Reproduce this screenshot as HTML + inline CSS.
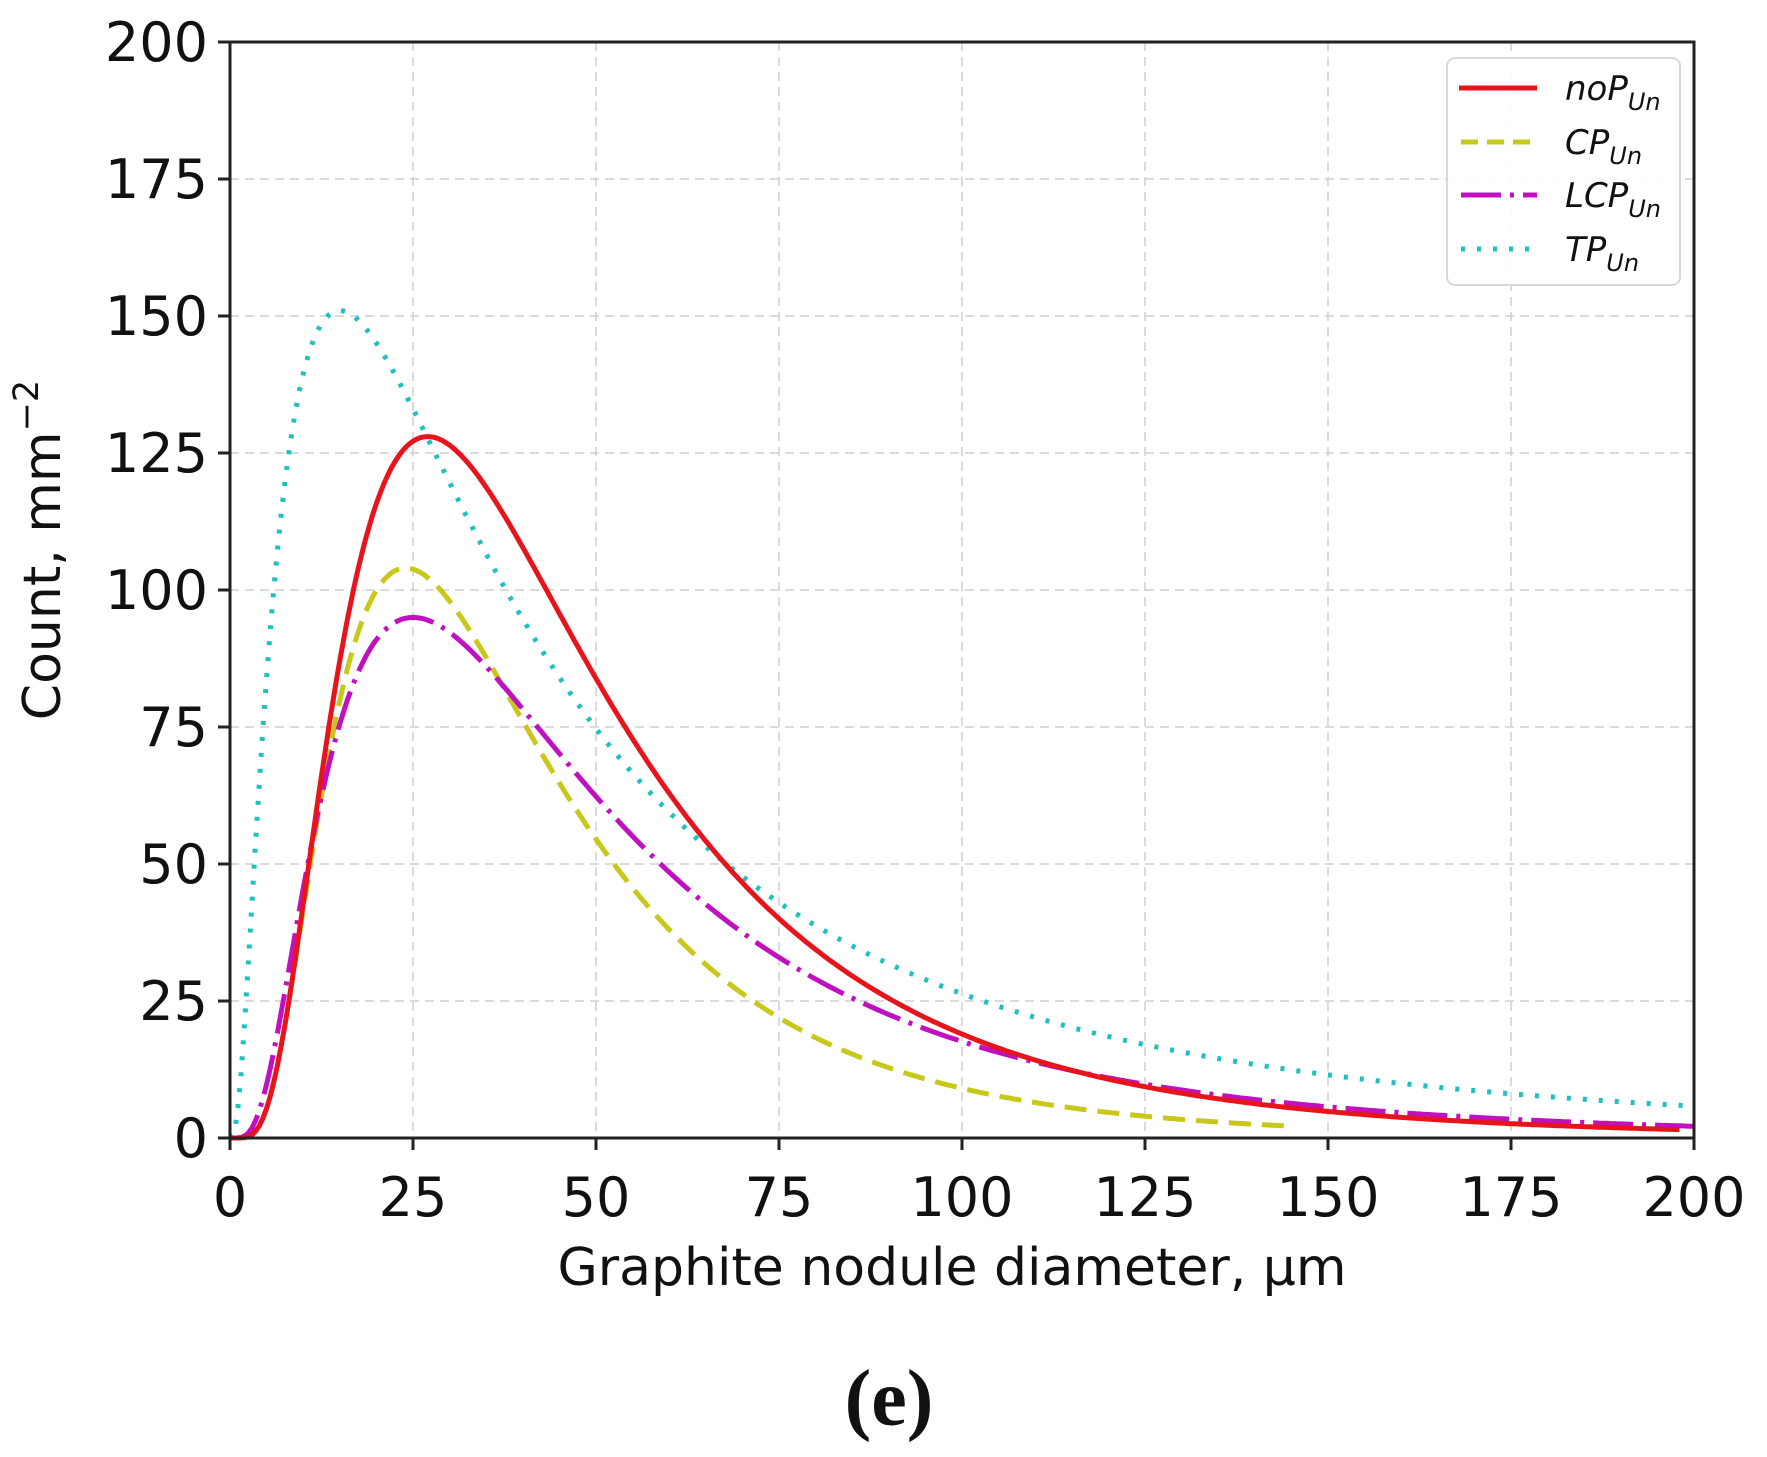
<!DOCTYPE html>
<html><head><meta charset="utf-8"><style>
html,body{margin:0;padding:0;background:#fff;}
svg{display:block;}
text{font-family:"DejaVu Sans","Liberation Sans",sans-serif;fill:#111;}
</style></head><body>
<svg id="s" width="1767" height="1457" xmlns="http://www.w3.org/2000/svg">
<g id="grid" stroke="#cfcfcf" stroke-width="1.5" stroke-dasharray="9,6"></g>
<g id="curves" fill="none" stroke-width="5"></g>
<rect x="230" y="42" width="1464" height="1096" fill="none" stroke="#222" stroke-width="3"/>
<g id="ticks" stroke="#222" stroke-width="3"></g>
<g id="labels" font-size="54"></g>
<text x="952" y="1285" font-size="52" text-anchor="middle">Graphite nodule diameter, μm</text>
<text transform="translate(60,550) rotate(-90)" font-size="52" text-anchor="middle">Count, mm<tspan dy="-22" font-size="35">−2</tspan></text>
<text x="889" y="1425" font-size="80" font-weight="bold" text-anchor="middle" style="font-family:'Liberation Serif',serif">(e)</text>
<rect x="1447" y="58" width="233" height="227" rx="8" fill="#fff" fill-opacity="0.9" stroke="#d8d8d8" stroke-width="2"/>
<line x1="1459" y1="88" x2="1537" y2="88" stroke="#e8141c" stroke-width="5"/>
<line x1="1461" y1="142" x2="1537" y2="142" stroke="#c8c81a" stroke-width="5" stroke-dasharray="17,9"/>
<line x1="1461" y1="195" x2="1537" y2="195" stroke="#c010c0" stroke-width="5" stroke-dasharray="40,9,4,9"/>
<line x1="1461" y1="249" x2="1537" y2="249" stroke="#20c0c0" stroke-width="5" stroke-dasharray="4,12"/>
<g font-size="34" font-style="italic">
<text x="1565" y="100">noP<tspan dy="10" font-size="24">Un</tspan></text>
<text x="1565" y="154">CP<tspan dy="10" font-size="24">Un</tspan></text>
<text x="1565" y="207">LCP<tspan dy="10" font-size="24">Un</tspan></text>
<text x="1565" y="261">TP<tspan dy="10" font-size="24">Un</tspan></text>
</g>
</svg>
<script>
var NS="http://www.w3.org/2000/svg";
function X(v){return 230+v*7.32;} function Y(v){return 1138-v*5.48;}
function el(p,t,a,txt){var e=document.createElementNS(NS,t);for(var k in a)e.setAttribute(k,a[k]);if(txt!==undefined)e.textContent=txt;document.getElementById(p).appendChild(e);}
for(var i=0;i<=8;i++){var v=i*25;
 if(i>0&&i<8){el("grid","line",{x1:X(v),y1:42,x2:X(v),y2:1138});el("grid","line",{x1:230,y1:Y(v),x2:1694,y2:Y(v)});}
 el("ticks","line",{x1:X(v),y1:1138,x2:X(v),y2:1150});
 el("ticks","line",{x1:218,y1:Y(v),x2:230,y2:Y(v)});
 el("labels","text",{x:X(v),y:1216,"text-anchor":"middle"},""+v);
 el("labels","text",{x:208,y:Y(v)+19,"text-anchor":"end"},""+v);
}
function curve(m,P,s,xmax,col,dash){
 var d="M"+X(0)+","+Y(0);
 for(var x=0.5;x<=xmax;x+=0.5){var f=P*Math.exp(-Math.pow(Math.log(x/m),2)/(2*s*s));d+=" L"+X(x).toFixed(1)+","+Y(f).toFixed(1);}
 var a={d:d,stroke:col};if(dash)a["stroke-dasharray"]=dash;el("curves","path",a);
}
curve(15,151,1.015,200,"#20c0c0","4,12");
curve(24,104,0.646,145,"#c8c81a","22,11");
curve(25,95,0.755,200,"#c010c0","40,9,4,9");
curve(27,128,0.67,198,"#e8141c",null);
</script>
</body></html>
